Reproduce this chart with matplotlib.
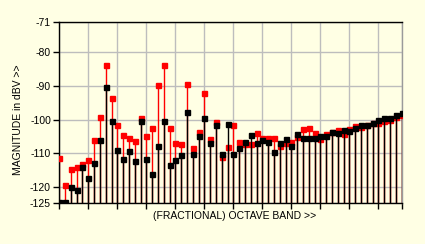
import matplotlib
matplotlib.use("Agg")
import matplotlib.pyplot as plt
import numpy as np

# octave bands 0..59, values in dBV
band = np.arange(60)
black_db = [-124.5, -124.5, -120.2, -121.1, -114.2, -117.5, -113.0, -106.1, -90.2, -100.4,
            -109.1, -111.8, -109.4, -112.4, -100.4, -111.8, -116.3, -107.9, -100.4, -113.6,
            -112.1, -110.6, -97.7, -110.3, -104.9, -99.5, -107.0, -101.6, -110.4, -101.3,
            -110.3, -108.5, -106.7, -104.7, -107.0, -106.1, -106.7, -109.7, -107.0, -105.9,
            -107.9, -104.3, -105.5, -105.5, -105.5, -104.9, -104.8, -103.7, -103.9, -103.1,
            -103.3, -102.5, -101.6, -101.6, -101.0, -100.2, -99.5, -99.5, -98.6, -98.1]
red_db = [-111.5, -119.6, -114.8, -114.2, -113.3, -112.1, -106.1, -99.2, -83.6, -93.5,
          -101.6, -104.6, -105.5, -106.4, -99.5, -104.9, -102.5, -89.6, -83.6, -102.5,
          -107.0, -107.3, -89.3, -108.5, -103.7, -92.0, -105.8, -100.7, -111.1, -108.2,
          -101.6, -106.7, -107.3, -107.3, -104.0, -105.5, -105.4, -105.4, -108.0, -107.0,
          -106.8, -105.2, -102.8, -102.5, -104.1, -105.8, -104.2, -103.7, -103.2, -104.2,
          -102.9, -102.0, -102.2, -101.6, -101.0, -101.0, -100.3, -100.2, -99.2, -98.8]
y_ticks = [-71, -80, -90, -100, -110, -120, -125]

bg = "#ffffe4"
ymin, ymax = -125, -71

fig = plt.figure(figsize=(4.25, 2.44), dpi=100, facecolor=bg)
ax = fig.add_axes([0.1395, 0.1668, 0.8056, 0.7418], facecolor=bg)

# red behind, black in front
ax.vlines(band, ymin, red_db, color="#ff0000", lw=1.0, zorder=2)
ax.plot(band, red_db, "s", color="#ff0000", ms=3.6, zorder=3)
ax.vlines(band, ymin, black_db, color="black", lw=1.0, zorder=4)
ax.plot(band, black_db, "s", color="black", ms=3.6, zorder=5)

ax.set_xlim(0, 59)
ax.set_ylim(ymin, ymax)
ax.set_xticks(list(range(0, 60, 5)) + [59])
ax.set_xticklabels([])
ax.set_yticks(y_ticks)
ax.set_yticklabels([str(t) for t in y_ticks], fontsize=7.5, family="Liberation Sans")
ax.tick_params(direction="out", length=4, width=1, color="black", pad=2)
ax.grid(True, color="#bdbdbd", lw=1.0, zorder=0)
ax.set_axisbelow(True)

for side in ["left", "bottom", "top"]:
    ax.spines[side].set_color("black")
    ax.spines[side].set_linewidth(1.0)
ax.spines["right"].set_color("#9a9a9a")
ax.spines["right"].set_linewidth(1.0)

fig.text(18 / 425, 1 - 119.5 / 244, "MAGNITUDE in dBV >>", rotation=90,
         ha="center", va="center", fontsize=7.5, family="Liberation Sans")
fig.text(235 / 425, 1 - 216 / 244, "(FRACTIONAL) OCTAVE BAND >>",
         ha="center", va="center", fontsize=7.5, family="Liberation Sans")

fig.savefig("out.png", dpi=100, facecolor=bg)
